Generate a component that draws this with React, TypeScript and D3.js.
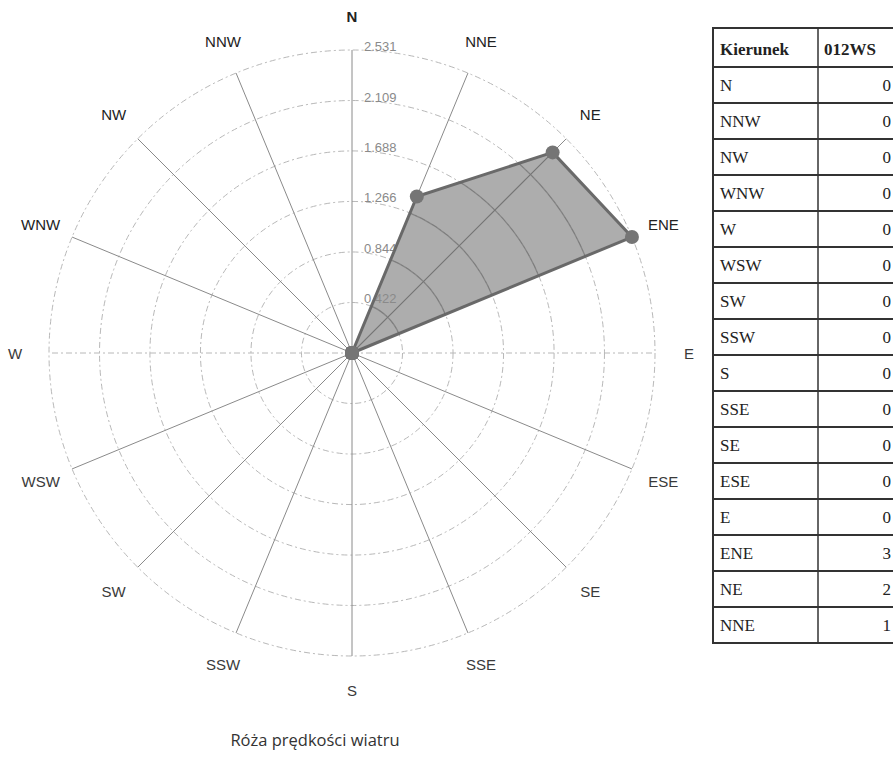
import React from "react";
import * as d3 from "d3";

const directions = ["N", "NNE", "NE", "ENE", "E", "ESE", "SE", "SSE", "S", "SSW", "SW", "WSW", "W", "WNW", "NW", "NNW"];
const speeds = [0, 1.415, 2.37, 2.531, 0, 0, 0, 0, 0, 0, 0, 0, 0, 0, 0, 0];
const ringValues = [0.422, 0.844, 1.266, 1.688, 2.109, 2.531];
const ringLabels = ["0.422", "0.844", "1.266", "1.688", "2.109", "2.531"];
const tableDirections = ["N", "NNW", "NW", "WNW", "W", "WSW", "SW", "SSW", "S", "SSE", "SE", "ESE", "E", "ENE", "NE", "NNE"];
const tableValues = ["0", "0", "0", "0", "0", "0", "0", "0", "0", "0", "0", "0", "0", "3", "2", "1"];
const title = "Róża prędkości wiatru";

export default function App() {
  const W = 893, H = 771;
  const cx = 352, cy = 353;
  const r = d3.scaleLinear().domain([0, 2.531]).range([0, 303]);
  const ang = d3.scaleLinear().domain([0, directions.length]).range([0, 2 * Math.PI]);
  const pt = (i: number, v: number): [number, number] => {
    const a = ang(i);
    return [cx + r(v) * Math.sin(a), cy - r(v) * Math.cos(a)];
  };
  const lineGen = d3.line<number>().x((v, i) => pt(i, v)[0]).y((v, i) => pt(i, v)[1]).curve(d3.curveLinearClosed);
  const polyD = lineGen(speeds) || "";
  const labelR = 337;

  const tblX = 713, tblTop = 28, headH = 39, rowH = 36, colX = 818, tblRight = 897;
  const rowY = d3.scaleLinear().domain([0, 1]).range([tblTop + headH, tblTop + headH + rowH]);

  return (
    <div style={{ position: "absolute", left: 0, top: 0 }}>
      <svg width={W} height={H} style={{ display: "block", background: "#fff" }}>
        <defs>
          <clipPath id="polyClip"><path d={polyD} /></clipPath>
        </defs>
        {/* rings */}
        {ringValues.map((v, k) => (
          <circle key={k} cx={cx} cy={cy} r={r(v)} fill="none" stroke="#b8b8b8" strokeWidth={1} strokeDasharray="6,3,2,3" />
        ))}
        {/* spokes */}
        {directions.map((d, i) => {
          const [x, y] = pt(i, 2.531);
          const horiz = d === "E" || d === "W";
          return (
            <line key={d} x1={cx} y1={cy} x2={x} y2={y} stroke={horiz ? "#b8b8b8" : "#8a8a8a"} strokeWidth={1}
              strokeDasharray={horiz ? "6,3,2,3" : undefined} />
          );
        })}
        {/* ring labels */}
        {ringValues.map((v, k) => (
          <text key={k} x={cx + 12} y={cy - r(v) + 1} fontFamily="Liberation Sans, Arial, sans-serif" fontSize={13} fill="#8a8a8a">
            {ringLabels[k]}
          </text>
        ))}
        {/* data polygon */}
        <path d={polyD} fill="#8a8a8a" fillOpacity={0.7} stroke="#6a6a6a" strokeWidth={3} strokeLinejoin="round" />
        {/* grid visible through polygon */}
        <g clipPath="url(#polyClip)" opacity={0.55}>
          {ringValues.map((v, k) => (
            <circle key={k} cx={cx} cy={cy} r={r(v)} fill="none" stroke="#666" strokeWidth={1.3} />
          ))}
          {directions.map((d, i) => {
            const [x, y] = pt(i, 2.531);
            return <line key={d} x1={cx} y1={cy} x2={x} y2={y} stroke="#666" strokeWidth={1.3} />;
          })}
        </g>
        {speeds.map((v, i) => {
          const [x, y] = pt(i, v);
          return <circle key={i} cx={x} cy={y} r={7} fill="#757575" />;
        })}
        {/* direction labels */}
        {directions.map((d, i) => {
          const a = ang(i);
          const x = cx + labelR * Math.sin(a);
          const y = cy - labelR * Math.cos(a);
          return (
            <text key={d} x={x} y={y} textAnchor="middle" dominantBaseline="central" fontFamily="Liberation Sans, Arial, sans-serif"
              fontSize={15} fill={i <= 3 || i >= 13 ? "#222" : "#3a3a3a"} fontWeight={i === 0 ? 700 : 400}>
              {d}
            </text>
          );
        })}
        {/* title */}
        <text x={315} y={746} textAnchor="middle" fontFamily="Open Sans, sans-serif" fontSize={16.5} fill="#333">{title}</text>
        {/* table */}
        <g fontFamily="Liberation Serif, Times New Roman, serif" fontSize={17} fill="#222">
          <rect x={tblX} y={tblTop} width={tblRight - tblX} height={headH + rowH * tableDirections.length} fill="none" stroke="#333" strokeWidth={2} />
          <line x1={colX} y1={tblTop} x2={colX} y2={tblTop + headH + rowH * tableDirections.length} stroke="#333" strokeWidth={1.5} />
          <line x1={tblX} y1={tblTop + headH} x2={tblRight} y2={tblTop + headH} stroke="#333" strokeWidth={2} />
          {tableDirections.map((d, i) => (
            <line key={"l" + d} x1={tblX} y1={rowY(i + 1)} x2={tblRight} y2={rowY(i + 1)} stroke="#333" strokeWidth={1.8} />
          ))}
          <text x={tblX + 7} y={tblTop + 27} fontWeight="bold">Kierunek</text>
          <text x={colX + 6} y={tblTop + 27} fontWeight="bold">012WS</text>
          {tableDirections.map((d, i) => (
            <g key={d}>
              <text x={tblX + 7} y={rowY(i) + 24}>{d}</text>
              <text x={891} y={rowY(i) + 24} textAnchor="end">{tableValues[i]}</text>
            </g>
          ))}
        </g>
      </svg>
    </div>
  );
}
